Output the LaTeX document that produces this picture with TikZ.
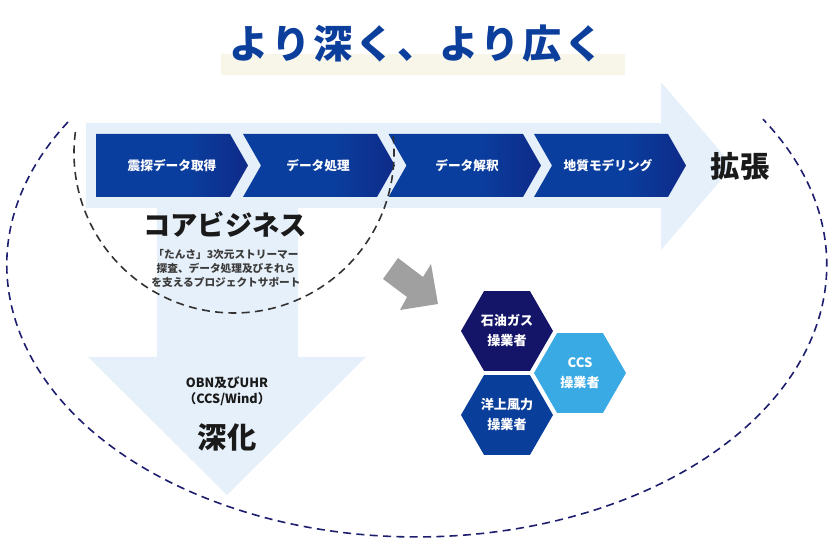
\documentclass[tikz,border=0pt]{standalone}
\usepackage{fontspec}
\setmainfont{Noto Sans CJK JP}
\usetikzlibrary{shapes.geometric}
\definecolor{bandblue}{RGB}{230,240,250}
\definecolor{titleblue}{RGB}{12,62,156}
\definecolor{cream}{RGB}{248,246,232}
\definecolor{dashnavy}{RGB}{30,30,110}
\definecolor{chevA}{RGB}{10,62,158}
\definecolor{chevB}{RGB}{20,18,110}
\definecolor{hexnavy}{RGB}{20,20,105}
\definecolor{hexlight}{RGB}{58,170,228}
\definecolor{hexblue}{RGB}{10,62,155}
\definecolor{arrowgray}{RGB}{160,160,160}
\definecolor{circgray}{RGB}{50,50,50}
\definecolor{txtdark}{RGB}{26,26,26}
\pgfdeclarehorizontalshading{chevshade}{100bp}{color(0bp)=(chevA); color(55bp)=(chevA); color(100bp)=(chevB)}
\newcommand{\fs}[2]{\fontsize{#1}{#2}\selectfont}
\tikzset{
  chevtext/.style={text=white, font=\fs{9.5}{11}\bfseries, inner sep=0pt},
  hexbox/.style={regular polygon, regular polygon sides=6, minimum size=69pt, inner sep=0pt, text=white, font=\fs{9.8}{15}\bfseries, align=center},
  chevfill/.style={shading=chevshade, shading angle=0},
}
\begin{document}
\begin{tikzpicture}[x=0.75pt,y=-0.75pt]
\useasboundingbox (0,0) rectangle (840,556);
% title
\fill[cream] (221,54) rectangle (625,75);
\node[text=titleblue, font=\fs{29.5}{33}\bfseries\addfontfeature{LetterSpace=7}, inner sep=0pt] (title) at (417,44) {より深く、より広く};
% big dashed ellipse
\draw[dashnavy, line width=1.2pt, dash pattern=on 6pt off 4pt] (68,122) arc[start angle=211.7, end angle=-32.4, x radius=410, y radius=272];
% light blue arrows
\fill[bandblue] (86,123) -- (661,123) -- (661,82) -- (733,166) -- (661,250) -- (661,208) -- (298,208) -- (298,357) -- (366,357) -- (227,495) -- (88,357) -- (157,357) -- (157,208) -- (86,208) -- cycle;
% chevrons
\shade[chevfill] (96,134) -- (230,134) -- (248,165.5) -- (230,197) -- (96,197) -- cycle;
\shade[chevfill] (243,134) -- (377,134) -- (395,165.5) -- (377,197) -- (243,197) -- (261,165.5) -- cycle;
\shade[chevfill] (388.5,134) -- (523,134) -- (541,165.5) -- (523,197) -- (388.5,197) -- (406.5,165.5) -- cycle;
\shade[chevfill] (534,134) -- (668,134) -- (686,165.5) -- (668,197) -- (534,197) -- (552,165.5) -- cycle;
\node[chevtext] (c1) at (172,166) {震探データ取得};
\node[chevtext] (c2) at (318,166) {データ処理};
\node[chevtext] (c3) at (467,166) {データ解釈};
\node[chevtext] (c4) at (608,166) {地質モデリング};
\node[text=txtdark, font=\fs{22}{26}\bfseries, inner sep=0pt] (kakucho) at (740,166) {拡張};
% core business
\node[text=txtdark, font=\fs{20.5}{24}\bfseries, inner sep=0pt] (core) at (225,224) {コアビジネス};
\node[text=txtdark!85, font=\fs{8}{10.5}\bfseries, align=center, inner sep=0pt] (coredesc) at (226,268) {「たんさ」3次元ストリーマー\\探査、データ処理及びそれら\\を支えるプロジェクトサポート};
% deepening
\node[text=txtdark, font=\fs{9.5}{12}\bfseries, align=center, inner sep=0pt] (obn) at (227,391) {OBN及びUHR\\（CCS/Wind）};
\node[text=txtdark, font=\fs{22}{26}\bfseries, inner sep=0pt] (shinka) at (227,437) {深化};
% dashed circle
\draw[circgray, line width=1.2pt, dash pattern=on 6pt off 4pt] (234,153) ++(187.5:160) arc[start angle=187.5, end angle=-6, radius=160];
% gray arrow
\fill[arrowgray] (398,258) -- (423,277) -- (431,264) -- (438,304) -- (400,310) -- (407,297) -- (383,279) -- cycle;
% hexagons
\node[hexbox, fill=hexnavy] (h1) at (507,331) {石油ガス\\操業者};
\node[hexbox, fill=hexlight] (h2) at (580,373) {CCS\\操業者};
\node[hexbox, fill=hexblue] (h3) at (507,415) {洋上風力\\操業者};
\end{tikzpicture}
\end{document}
